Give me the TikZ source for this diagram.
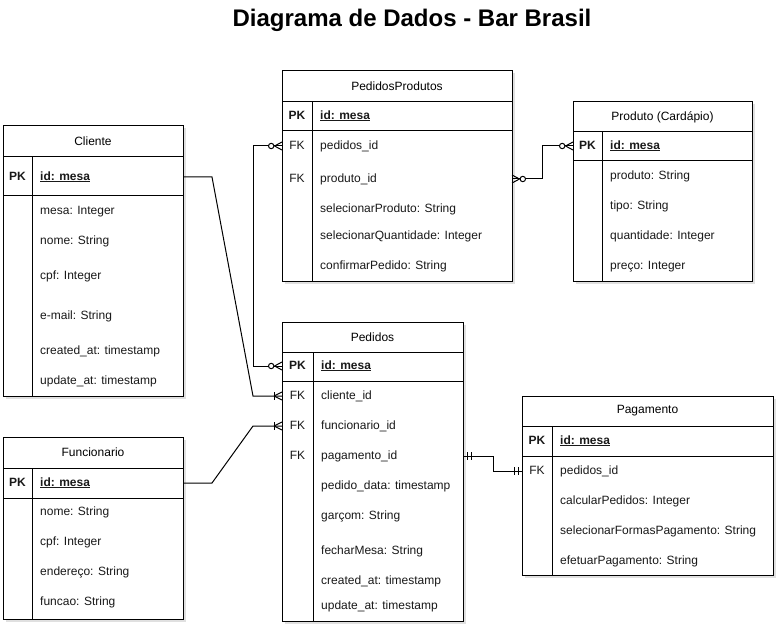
\documentclass[tikz,border=0pt]{standalone}
\usepackage{fontspec}
\setmainfont{Liberation Sans}
\usetikzlibrary{calc,shadows}
\newcommand\ertab[9]{%
  \node[tbl, anchor=north west, minimum width={(#4-#2)*1pt}, minimum height={(#5-#3)*1pt}] (#1) at (#2,#3) {};
  \draw[ln] (#2,#6) -- (#4,#6);
  \draw[ln] (#2,#7) -- (#4,#7);
  \draw[ln] (#8,#6) -- (#8,#5);
  \node[ttl] (#1-title) at ({(#2+#4)/2},{(#3+#6)/2}) {#9};
}
% markers: #1 point, #2 outward sign (-1 = to the left, 1 = to the right)
\newcommand\mkzeromany[2]{%
  \draw[ln] ($(#1)+(#2*7.5,0)$) -- ($(#1)+(0,-4)$);
  \draw[ln] ($(#1)+(#2*7.5,0)$) -- ($(#1)+(0,4)$);
  \draw[ln, fill=white] ($(#1)+(#2*10.8,0)$) circle[radius=2.7];
}
\newcommand\mkonemany[2]{%
  \draw[ln] ($(#1)+(#2*8,-4)$) -- ($(#1)+(#2*8,4)$);
  \draw[ln] ($(#1)+(#2*8,0)$) -- ($(#1)+(0,-4)$);
  \draw[ln] ($(#1)+(#2*8,0)$) -- ($(#1)+(0,4)$);
}
\newcommand\mkmandone[2]{%
  \draw[ln] ($(#1)+(#2*4,-4)$) -- ($(#1)+(#2*4,4)$);
  \draw[ln] ($(#1)+(#2*8,-4)$) -- ($(#1)+(#2*8,4)$);
}
\begin{document}
\begin{tikzpicture}[x=1pt,y=-1pt,
  ln/.style={line width=1pt, draw=black},
  tbl/.style={draw=black, line width=1pt, fill=white, inner sep=0pt, outer sep=0pt,
    drop shadow={shadow xshift=2.5pt, shadow yshift=-2.5pt, opacity=0.12, fill=black}},
  ttl/.style={font=\fontsize{12}{14}\selectfont, inner sep=0pt},
  fld/.style={font=\fontsize{12}{14}\selectfont, anchor=west, inner sep=0pt, text height=8.6pt, text depth=2.4pt, text=black!90},
  key/.style={font=\bfseries\fontsize{12}{14}\selectfont, inner sep=0pt, text height=8.6pt, text depth=2.4pt, text=black!90},
  pkf/.style={fld, font=\bfseries\fontsize{12}{14}\selectfont},
]
\useasboundingbox (0,0) rectangle (782,631);
\fill[white] (0,0) rectangle (782,631);

\node[font=\bfseries\fontsize{24}{28}\selectfont, inner sep=0pt] (title) at (412,20) {Diagrama de Dados - Bar Brasil};

% ---------- Cliente
\ertab{cliente}{3}{126}{183}{396}{157}{196}{32}{Cliente}
\node[key] (c-pk) at (17.5,177) {PK};
\node[pkf] (c-id) at (40,177) {\underline{id: mesa}};
\node[fld] (c1) at (40,211) {mesa: Integer};
\node[fld] (c2) at (40,241) {nome: String};
\node[fld] (c3) at (40,276) {cpf: Integer};
\node[fld] (c4) at (40,316) {e-mail: String};
\node[fld] (c5) at (40,351) {created\_at: timestamp};
\node[fld] (c6) at (40,381) {update\_at: timestamp};

% ---------- Funcionario
\ertab{func}{3}{437}{183}{619}{468}{498}{32}{Funcionario}
\node[key] (f-pk) at (17.5,483) {PK};
\node[pkf] (f-id) at (40,483) {\underline{id: mesa}};
\node[fld] (f1) at (40,512) {nome: String};
\node[fld] (f2) at (40,542) {cpf: Integer};
\node[fld] (f3) at (40,572) {endereço: String};
\node[fld] (f4) at (40,602) {funcao: String};

% ---------- PedidosProdutos
\ertab{pp}{282}{71}{512}{281}{102}{131}{312}{PedidosProdutos}
\node[key] (pp-pk) at (297,116) {PK};
\node[pkf] (pp-id) at (320,116) {\underline{id: mesa}};
\node[key] (pp-fk1) at (297,146) {\mdseries FK};
\node[fld] (pp1) at (320,146) {pedidos\_id};
\node[key] (pp-fk2) at (297,179) {\mdseries FK};
\node[fld] (pp2) at (320,179) {produto\_id};
\node[fld] (pp3) at (320,209) {selecionarProduto: String};
\node[fld] (pp4) at (320,236) {selecionarQuantidade: Integer};
\node[fld] (pp5) at (320,266) {confirmarPedido: String};

% ---------- Produto
\ertab{prod}{573}{102}{752}{281}{132}{161}{602}{Produto (Cardápio)}
\node[key] (pr-pk) at (587.5,146) {PK};
\node[pkf] (pr-id) at (610,146) {\underline{id: mesa}};
\node[fld] (pr1) at (610,176) {produto: String};
\node[fld] (pr2) at (610,206) {tipo: String};
\node[fld] (pr3) at (610,236) {quantidade: Integer};
\node[fld] (pr4) at (610,266) {preço: Integer};

% ---------- Pedidos
\ertab{ped}{282}{322}{463}{621}{352}{381}{313}{Pedidos}
\node[key] (pe-pk) at (297.5,366) {PK};
\node[pkf] (pe-id) at (321,366) {\underline{id: mesa}};
\node[key] (pe-fk1) at (297.5,396) {\mdseries FK};
\node[fld] (pe1) at (321,396) {cliente\_id};
\node[key] (pe-fk2) at (297.5,426) {\mdseries FK};
\node[fld] (pe2) at (321,426) {funcionario\_id};
\node[key] (pe-fk3) at (297.5,456) {\mdseries FK};
\node[fld] (pe3) at (321,456) {pagamento\_id};
\node[fld] (pe4) at (321,486) {pedido\_data: timestamp};
\node[fld] (pe5) at (321,516) {garçom: String};
\node[fld] (pe6) at (321,551) {fecharMesa: String};
\node[fld] (pe7) at (321,581) {created\_at: timestamp};
\node[fld] (pe8) at (321,606) {update\_at: timestamp};

% ---------- Pagamento
\ertab{pag}{522}{396}{773}{575}{426}{456}{552}{Pagamento}
\node[key] (pg-pk) at (537,441) {PK};
\node[pkf] (pg-id) at (560,441) {\underline{id: mesa}};
\node[key] (pg-fk1) at (537,471) {\mdseries FK};
\node[fld] (pg1) at (560,471) {pedidos\_id};
\node[fld] (pg2) at (560,501) {calcularPedidos: Integer};
\node[fld] (pg3) at (560,531) {selecionarFormasPagamento: String};
\node[fld] (pg4) at (560,561) {efetuarPagamento: String};

% ---------- connection points
\coordinate (a1) at (cliente.east |- c-pk);
\coordinate (a2) at (ped.west |- pe-fk1);
\coordinate (b1) at (func.east |- f-pk);
\coordinate (b2) at (ped.west |- pe-fk2);
\coordinate (d1) at (pp.west |- pp-fk1);
\coordinate (d2) at (ped.west |- pe-pk);
\coordinate (e1) at (pp.east |- pp-fk2);
\coordinate (e2) at (prod.west |- pr-pk);
\coordinate (g1) at (ped.east |- pe-fk3);
\coordinate (g2) at (pag.west |- pg-fk1);

% ---------- connectors
\draw[ln] (a1) -- ++(29,0) -- ($(a2)+(-29,0)$) -- (a2);
\mkonemany{a2}{-1}
\draw[ln] (b1) -- ++(29,0) -- ($(b2)+(-29,0)$) -- (b2);
\mkonemany{b2}{-1}
\draw[ln] (d1) -- ++(-29,0) |- (d2);
\mkzeromany{d1}{-1}
\mkzeromany{d2}{-1}
\draw[ln] (e1) -- ++(30,0) |- (e2);
\mkzeromany{e1}{1}
\mkzeromany{e2}{-1}
\draw[ln] (g1) -- ++(30,0) |- (g2);
\mkmandone{g1}{1}
\mkmandone{g2}{-1}
\end{tikzpicture}
\end{document}
